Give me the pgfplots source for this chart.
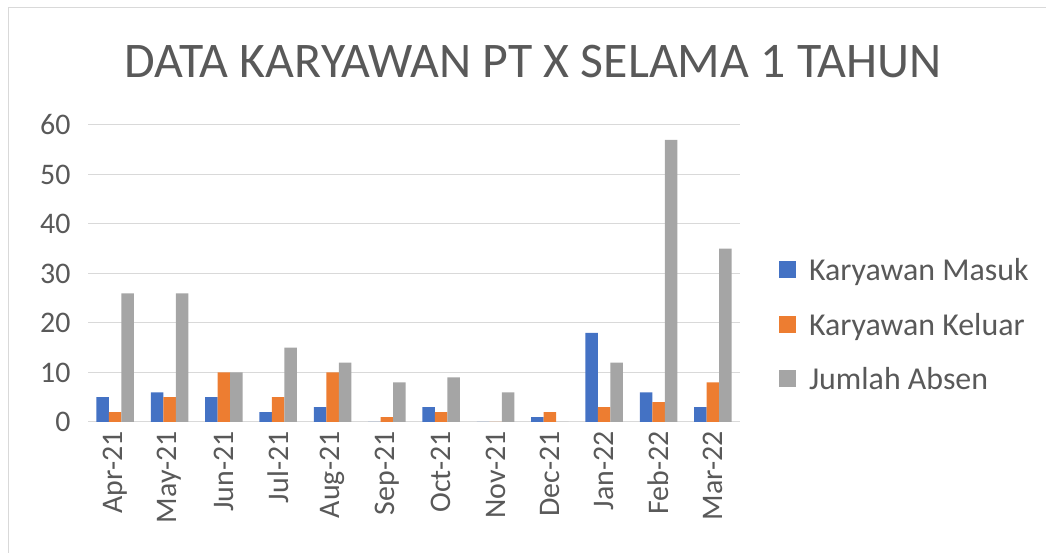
\documentclass[border=0pt]{standalone}
\usepackage{pgfplots}
\pgfplotsset{compat=1.18}
\usepackage{fontspec}
\setmainfont{Carlito}
\definecolor{cblue}{HTML}{4472C4}
\definecolor{corange}{HTML}{ED7D31}
\definecolor{cgray}{HTML}{A5A5A5}
\definecolor{ctext}{HTML}{595959}
\definecolor{cgrid}{HTML}{D9D9D9}
\pgfplotstableread{
x masuk keluar absen
0 5 2 26
1 6 5 26
2 5 10 10
3 2 5 15
4 3 10 12
5 0 1 8
6 3 2 9
7 0 0 6
8 1 2 0
9 18 3 12
10 6 4 57
11 3 8 35
}\datatab
\begin{document}
\begin{tikzpicture}[x=1bp,y=1bp]
\useasboundingbox (0,0) rectangle (1046,553);
\draw[cgrid,line width=1bp] (8,-5) -- (8,545) -- (1050,545);
\node[text=ctext,font=\fontsize{50}{54}\selectfont] at (533,491) {DATA KARYAWAN PT X SELAMA 1 TAHUN};
\begin{axis}[
  at={(88bp,131bp)}, anchor=south west,
  scale only axis, width=652bp, height=297bp,
  xmin=-0.5, xmax=11.5, ymin=0, ymax=60,
  ytick={0,10,...,60},
  xtick=data,
  xticklabels={Apr-21,May-21,Jun-21,Jul-21,Aug-21,Sep-21,Oct-21,Nov-21,Dec-21,Jan-22,Feb-22,Mar-22},
  x tick label style={rotate=90, anchor=east, xshift=-6bp},
  y tick label style={xshift=-14bp},
  ticklabel style={font=\fontsize{30}{34}\selectfont, text=ctext},
  /pgf/number format/assume math mode=true,
  major tick length=0pt,
  axis line style={draw=none},
  ymajorgrids, grid style={cgrid,line width=1bp},
  ybar=0pt, bar width=12.5bp,
  legend style={at={(1.055,0.327)}, anchor=west, draw=none, fill=none,
    font=\fontsize{32}{34}\selectfont, text=ctext, row sep=27bp,
    legend cell align=left, /tikz/every odd column/.append style={column sep=11bp}},
  legend image code/.code={\fill[#1] (0bp,-8bp) rectangle (17bp,9bp);},
  clip=false,
]
\addplot[fill=cblue, draw=none] table[x=x,y=masuk] {\datatab};
\addplot[fill=corange, draw=none] table[x=x,y=keluar] {\datatab};
\addplot[fill=cgray, draw=none] table[x=x,y=absen] {\datatab};
\legend{Karyawan Masuk, Karyawan Keluar, Jumlah Absen}
\end{axis}
\end{tikzpicture}
\end{document}
